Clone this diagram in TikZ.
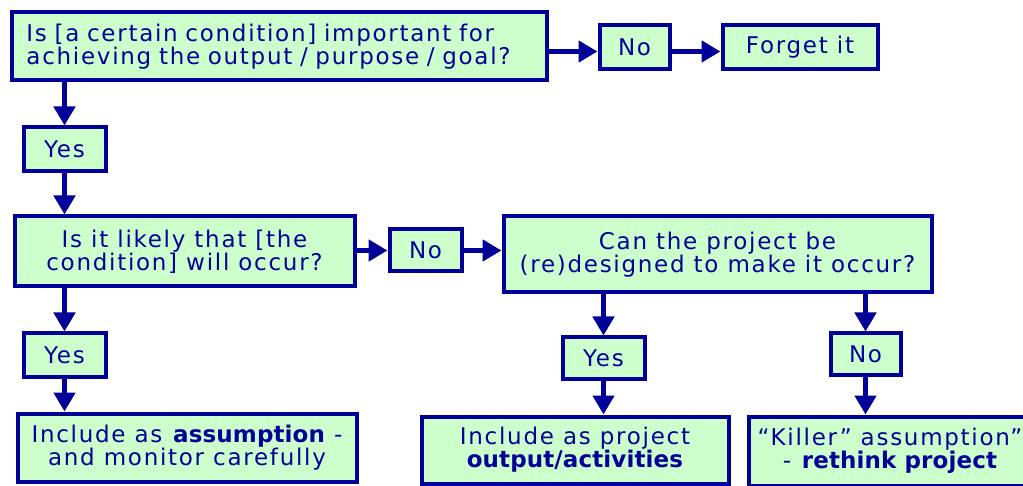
\documentclass[tikz,border=0pt]{standalone}
\usepackage{fontspec}
\setmainfont{DejaVu Sans}[LetterSpace=7.5, BoldFeatures={LetterSpace=0.5}]
\usetikzlibrary{arrows.meta}
\definecolor{bx}{HTML}{000099}
\definecolor{gf}{HTML}{CCFFCC}
\begin{document}
\begin{tikzpicture}[x=1pt,y=-1pt,
  box/.style={draw=bx, fill=gf, line width=4pt, text=bx, align=center,
    inner sep=0pt, font=\fontsize{23}{23}\selectfont},
  arr/.style={draw=bx, line width=5.5pt, -{Triangle[length=19pt,width=21pt]}}]
\clip (0,0) rectangle (1023,486);
\node[box, minimum width=535pt, minimum height=68pt, text width=505pt, align=left] (A) at (279,46.5)
  {Is [a certain condition] important for\\achieving the output / purpose / goal?};
\node[box, minimum width=70pt, minimum height=44pt] (NoA) at (634.5,47.5) {No};
\node[box, minimum width=155pt, minimum height=44pt] (Forget) at (800,47.5) {Forget it};
\node[box, minimum width=82pt, minimum height=44pt] (Yes1) at (64.5,149.5) {Yes};
\node[box, minimum width=340pt, minimum height=70pt] (B) at (184.5,251.5)
  {Is it likely that [the\\condition] will occur?};
\node[box, minimum width=72pt, minimum height=42pt] (NoB) at (425.5,250.5) {No};
\node[box, minimum width=428pt, minimum height=76pt] (C) at (717.5,254.5)
  {Can the project be\\(re)designed to make it occur?};
\node[box, minimum width=82pt, minimum height=43pt] (Yes2) at (64.5,355) {Yes};
\node[box, minimum width=339pt, minimum height=68pt] (D) at (187,447.5)
  {Include as \textbf{assumption} -\\and monitor carefully};
\node[box, minimum width=82pt, minimum height=41pt] (Yes3) at (603.5,358) {Yes};
\node[box, minimum width=307pt, minimum height=67pt] (E) at (575,450)
  {Include as project\\\textbf{output/activities}};
\node[box, minimum width=70pt, minimum height=41pt] (No3) at (865.5,354) {No};
\node[box, minimum width=283pt, minimum height=69pt] (F) at (890,451)
  {“Killer” assumption”\\- \textbf{rethink project}};
\draw[arr] ([yshift=-4pt]A.east |- NoA.west) -- ([yshift=-4pt]NoA.west);
\draw[arr] ([yshift=-4pt]NoA.east) -- ([yshift=-4pt]Forget.west);
\draw[arr] (Yes1.north |- A.south) -- (Yes1.north);
\draw[arr] (Yes1.south) -- (Yes1.south |- B.north);
\draw[arr] (B.east |- NoB.west) -- (NoB.west);
\draw[arr] (NoB.east) -- (NoB.east -| C.west);
\draw[arr] (Yes2.north |- B.south) -- (Yes2.north);
\draw[arr] (Yes2.south) -- (Yes2.south |- D.north);
\draw[arr] (Yes3.north |- C.south) -- (Yes3.north);
\draw[arr] (Yes3.south) -- (Yes3.south |- E.north);
\draw[arr] (No3.north |- C.south) -- (No3.north);
\draw[arr] (No3.south) -- (No3.south |- F.north);
\end{tikzpicture}
\end{document}
